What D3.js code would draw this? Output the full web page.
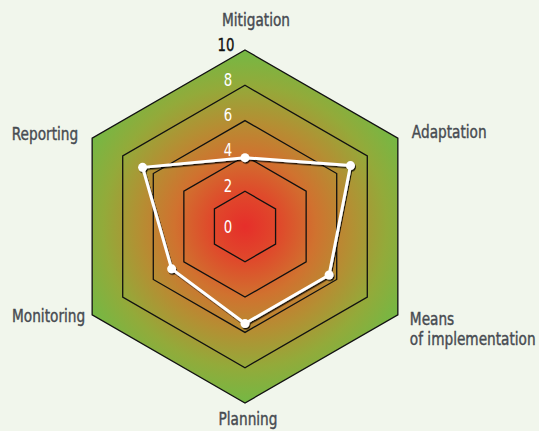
<!DOCTYPE html>
<html>
<head>
<meta charset="utf-8">
<script src="https://cdn.jsdelivr.net/npm/d3@7"></script>
<style>
  html, body { margin: 0; padding: 0; background: #f1f6ec; }
  svg text { font-family: "DejaVu Sans", sans-serif; }
</style>
</head>
<body>
<div id="radar"></div>
<script>
// Data
var axes   = ['Mitigation', 'Adaptation', 'Means\nof implementation', 'Planning', 'Monitoring', 'Reporting'];
var scores = [3.9, 6.9, 5.5, 5.5, 4.8, 6.7];
var levels = [0, 2, 4, 6, 8, 10];

var chart_width  = 539;
var chart_height = 431;
var cx = 245, cy = 226.5, outer = 176.5;

var svg = d3.select('#radar')
    .append('svg')
    .attr('width', chart_width)
    .attr('height', chart_height);

var r = d3.scaleLinear().domain([0, 10]).range([0, outer]);
var angle = d3.scaleLinear().domain([0, axes.length]).range([0, 2 * Math.PI]);

function pt(i, v) {
    var a = angle(i);
    return [cx + r(v) * Math.sin(a), cy - r(v) * Math.cos(a)];
}

var defs = svg.append('defs');
var grad = defs.append('radialGradient')
    .attr('id', 'heat')
    .attr('gradientUnits', 'userSpaceOnUse')
    .attr('cx', cx).attr('cy', cy).attr('r', outer);
[[0, '#e62e2a'], [0.2, '#df4a2b'], [0.4, '#d0722f'], [0.6, '#b48f33'],
 [0.8, '#93aa3a'], [1, '#74b844']].forEach(function(s) {
    grad.append('stop').attr('offset', s[0]).attr('stop-color', s[1]);
});

var shadow = defs.append('filter').attr('id', 'shadow')
    .attr('x', '-20%').attr('y', '-20%').attr('width', '140%').attr('height', '140%');
shadow.append('feDropShadow')
    .attr('dx', 1).attr('dy', 1.5).attr('stdDeviation', 0.6)
    .attr('flood-color', '#000').attr('flood-opacity', 0.85);

var hex = d3.line();

// filled outer hexagon
svg.append('path')
    .attr('d', hex(axes.map(function(d, i) { return pt(i, 10); })) + 'Z')
    .attr('fill', 'url(#heat)');

// rings
svg.selectAll('path.ring')
    .data(levels.filter(function(v) { return v > 0; }))
    .enter()
    .append('path')
    .attr('class', 'ring')
    .attr('d', function(v) { return hex(axes.map(function(d, i) { return pt(i, v); })) + 'Z'; })
    .attr('fill', 'none')
    .attr('stroke', '#111')
    .attr('stroke-width', 1.3);

// level labels (narrow digits)
svg.selectAll('g.level')
    .data(levels)
    .enter()
    .append('g')
    .attr('class', 'level')
    .attr('transform', function(v) {
        var x = v === 10 ? cx - 19 : cx - 17;
        var y = v === 0 ? cy + 6.5 : cy - r(v) + 0.5;
        return 'translate(' + x + ',' + y + ') scale(0.74,1)';
    })
    .append('text')
    .attr('text-anchor', 'middle')
    .attr('font-size', 18)
    .attr('fill', function(v) { return v === 10 ? '#111' : '#fff'; })
    .attr('stroke', function(v) { return v === 10 ? '#111' : 'none'; })
    .attr('stroke-width', 0.4)
    .text(function(d) { return d; });

// score polygon
var g = svg.append('g').attr('filter', 'url(#shadow)');
g.append('path')
    .attr('d', hex(scores.map(function(v, i) { return pt(i, v); })) + 'Z')
    .attr('fill', 'none')
    .attr('stroke', '#fff')
    .attr('stroke-width', 3)
    .attr('stroke-linejoin', 'round');
g.selectAll('circle')
    .data(scores)
    .enter()
    .append('circle')
    .attr('cx', function(v, i) { return pt(i, v)[0]; })
    .attr('cy', function(v, i) { return pt(i, v)[1]; })
    .attr('r', 4.5)
    .attr('fill', '#fff');

// axis labels
function labelPos(i) {
    var p = pt(i, 10);
    if (i === 0) return { x: p[0] + 11, y: p[1] - 24, anchor: 'middle' };
    if (i === 1) return { x: p[0] + 14, y: p[1], anchor: 'start' };
    if (i === 2) return { x: p[0] + 12, y: p[1] + 10, anchor: 'start' };
    if (i === 3) return { x: p[0] + 3,  y: p[1] + 22, anchor: 'middle' };
    if (i === 4) return { x: p[0] - 7,  y: p[1] + 7, anchor: 'end' };
    return { x: p[0] - 14, y: p[1] + 2, anchor: 'end' };
}

svg.selectAll('g.axis')
    .data(axes)
    .enter()
    .append('g')
    .attr('class', 'axis')
    .attr('transform', function(d, i) {
        var L = labelPos(i);
        return 'translate(' + L.x + ',' + L.y + ') scale(0.76,1)';
    })
    .append('text')
    .attr('text-anchor', function(d, i) { return labelPos(i).anchor; })
    .attr('font-size', 18)
    .attr('fill', '#474b51')
    .attr('stroke', '#474b51')
    .attr('stroke-width', 0.45)
    .each(function(d) {
        var t = d3.select(this);
        d.split('\n').forEach(function(line, k) {
            t.append('tspan')
                .attr('x', 0)
                .attr('dy', k === 0 ? 0 : 20.5)
                .text(line);
        });
    });
</script>
</body>
</html>
